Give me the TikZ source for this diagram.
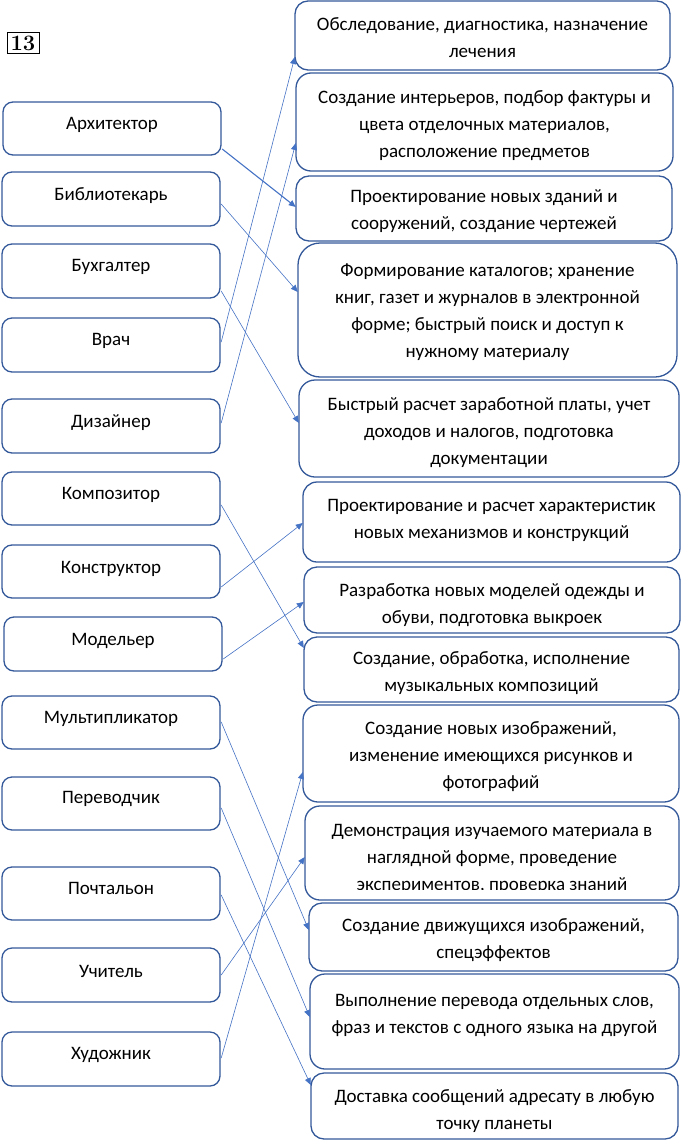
\documentclass[tikz,border=0pt]{standalone}
\usepackage{fontspec}
\setmainfont{Carlito}
\newfontfamily\numfont{Latin Modern Roman}
\usetikzlibrary{arrows.meta,calc}
\definecolor{boxblue}{HTML}{34599A}
\definecolor{linkblue}{HTML}{4472C4}
\begin{document}
\begin{tikzpicture}[x=1pt,y=-1pt,
  lbox/.style={draw=boxblue,line width=1.3pt,rounded corners=10pt,fill=white,inner sep=0pt},
  rbox/.style={draw=boxblue,line width=1.3pt,rounded corners=14pt,fill=white,inner sep=0pt},
  txt/.style={font=\fontsize{19}{27}\selectfont,align=center,inner sep=0pt,text=black,yshift=-1.5pt},
  link/.style={draw=linkblue,line width=0.6pt,-{Triangle[length=7pt,width=6pt]}}]
\useasboundingbox (0,0) rectangle (682,1140);
% number label
\node[draw=black,line width=0.9pt,inner sep=1pt,font=\numfont\fontsize{22}{22}\selectfont\bfseries,
  minimum width=32pt,minimum height=21pt] (num) at (23,43) {13};
% left boxes
\newcommand{\lb}[6]{% name, x1, y1, x2, y2, text-y
  \path[lbox] (#2,#3) rectangle (#4,#5);
  \node[minimum width=#4pt-#2pt,minimum height=#5pt-#3pt,inner sep=0pt] (#1) at ({(#2+#4)/2},{(#3+#5)/2}) {};
  \node[txt] (#1t) at ({(#2+#4)/2},#6) {\lbtext};}
\def\mkleft#1#2#3#4#5#6#7{\def\lbtext{#7}\lb{#1}{#2}{#3}{#4}{#5}{#6}}
\mkleft{l1}{3}{102}{221}{155}{123}{Архитектор}
\mkleft{l2}{2}{172}{220}{226}{194}{Библиотекарь}
\mkleft{l3}{2}{244}{220}{298}{265}{Бухгалтер}
\mkleft{l4}{2}{318}{220}{372}{339}{Врач}
\mkleft{l5}{2}{399}{220}{453}{421}{Дизайнер}
\mkleft{l6}{2}{472}{220}{525}{493}{Композитор}
\mkleft{l7}{2}{545}{220}{598}{567}{Конструктор}
\mkleft{l8}{4}{617}{222}{671}{639}{Модельер}
\mkleft{l9}{2}{696}{220}{749}{717}{Мультипликатор}
\mkleft{l10}{2}{777}{220}{830}{797}{Переводчик}
\mkleft{l11}{2}{867}{220}{920}{887}{Почтальон}
\mkleft{l12}{2}{948}{220}{1002}{970}{Учитель}
\mkleft{l13}{2}{1032}{220}{1086}{1053}{Художник}
% right boxes
\newcommand{\rb}[7]{% name, x1, y1, x2, y2, text-y, radius
  \path[rbox,rounded corners=#7pt] (#2,#3) rectangle (#4,#5);
  \node[minimum width=#4pt-#2pt,minimum height=#5pt-#3pt,inner sep=0pt] (#1) at ({(#2+#4)/2},{(#3+#5)/2}) {};
  \node[txt] (#1t) at ({(#2+#4)/2},#6) {\rbtext};}
\def\mkright#1#2#3#4#5#6#7#8{\def\rbtext{#8}\rb{#1}{#2}{#3}{#4}{#5}{#6}{#7}}
\mkright{r1}{295}{1}{670}{70}{36.5}{13}{Обследование, диагностика, назначение\\лечения}
\mkright{r2}{296}{73}{673}{171}{124}{15}{Создание интерьеров, подбор фактуры и\\цвета отделочных материалов,\\расположение предметов}
\mkright{r3}{296}{176}{672}{241}{210}{13}{Проектирование новых зданий и\\сооружений, создание чертежей}
\mkright{r4}{298}{243}{677}{377}{311}{22}{Формирование каталогов; хранение\\книг, газет и журналов в электронной\\форме; быстрый поиск и доступ к\\нужному материалу}
\mkright{r5}{299}{380}{679}{477}{431}{16}{Быстрый расчет заработной платы, учет\\доходов и налогов, подготовка\\документации}
\mkright{r6}{303}{482}{680}{562}{518.5}{14}{Проектирование и расчет характеристик\\новых механизмов и конструкций}
\mkright{r7}{304}{567}{680}{633}{603.5}{13}{Разработка новых моделей одежды и\\обуви, подготовка выкроек}
\mkright{r8}{304}{637}{679}{702}{671.5}{13}{Создание, обработка, исполнение\\музыкальных композиций}
\mkright{r9}{303}{705}{679}{802}{755}{15}{Создание новых изображений,\\изменение имеющихся рисунков и\\фотографий}
% box 10: its last text line is cut off at the bottom
\path[rbox,rounded corners=15pt] (305,806) rectangle (679,900);
\node[minimum width=374pt,minimum height=94pt,inner sep=0pt] (r10) at (492,853) {};
\begin{scope}
  \clip (300,806) rectangle (682,889);
  \node[txt] (r10t) at (492,857) {Демонстрация изучаемого материала в\\наглядной форме, проведение\\экспериментов, проверка знаний};
\end{scope}
\mkright{r11}{309}{903}{678}{971}{939}{13}{Создание движущихся изображений,\\спецэффектов}
\mkright{r12}{310}{974}{679}{1069}{1014}{15}{Выполнение перевода отдельных слов,\\фраз и текстов с одного языка на другой}
\mkright{r13}{311}{1073}{678}{1139}{1110}{13}{Доставка сообщений адресату в любую\\точку планеты}
% connectors
\draw[link,line width=1.1pt] ($(l1.east)+(1,20.5)$) -- ($(r3.west)+(0,-1.5)$);
\draw[link] ($(l2.east)+(1,5)$) -- ($(r4.west)+(0,-18)$);
\draw[link] ($(l3.east)+(1,20)$) -- ($(r5.west)+(0,-5.5)$);
\draw[link] ($(l4.east)+(1,-3)$) -- ($(r1.west)+(0,21.5)$);
\draw[link] ($(l5.east)+(1,-3)$) -- ($(r2.west)+(0,21)$);
\draw[link] ($(l6.east)+(1,6.5)$) -- ($(r8.west)+(0,-21.5)$);
\draw[link] ($(l7.east)+(1,15.5)$) -- ($(r6.west)+(0,1)$);
\draw[link] ($(l8.east)+(1,15)$) -- ($(r7.west)+(0,2)$);
\draw[link] ($(l9.east)+(1,-0.5)$) -- ($(r11.west)+(0,-7)$);
\draw[link] ($(l10.east)+(1,4.5)$) -- ($(r12.west)+(0,-4.5)$);
\draw[link] ($(l11.east)+(1,1.5)$) -- ($(r13.west)+(0,-21)$);
\draw[link] ($(l12.east)+(1,0)$) -- ($(r10.west)+(0,4)$);
\draw[link] ($(l13.east)+(1,-1)$) -- ($(r9.west)+(0,18.5)$);
\end{tikzpicture}
\end{document}
